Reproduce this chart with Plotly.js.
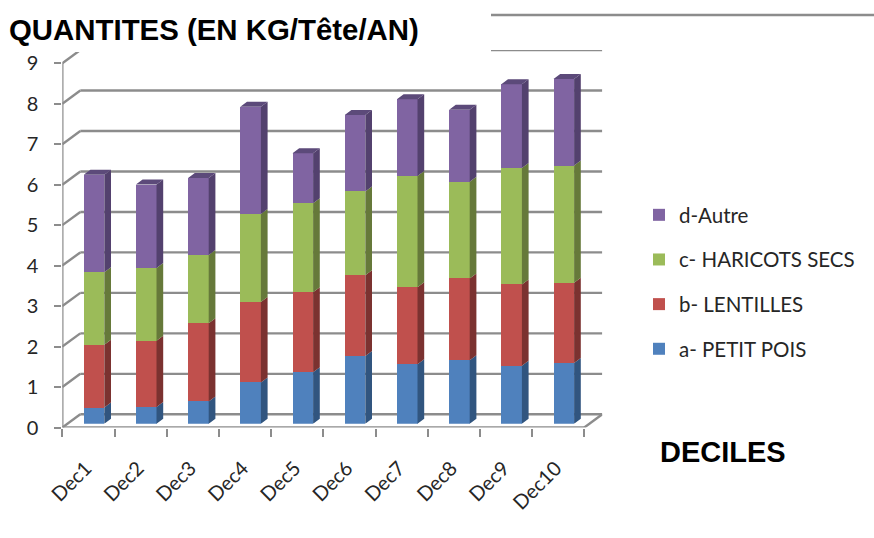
<!DOCTYPE html>
<html>
<head>
<meta charset="utf-8">
<script src="https://cdn.plot.ly/plotly-3.0.1.min.js"></script>
<style>html,body{margin:0;padding:0;background:#fff}#chart{width:874px;height:538px}</style>
</head>
<body>
<div id="chart"></div>
<script>
// Quantités consommées par décile, en kg par tête et par an
const categories = ['Dec1','Dec2','Dec3','Dec4','Dec5','Dec6','Dec7','Dec8','Dec9','Dec10'];
const petitPois = [0.40,0.41,0.55,1.02,1.27,1.67,1.47,1.57,1.43,1.50];
const lentilles = [1.55,1.64,1.93,1.99,1.98,2.00,1.90,2.02,2.01,1.98];
const haricots  = [1.79,1.80,1.69,2.17,2.20,2.07,2.75,2.39,2.88,2.90];
const autre     = [2.41,2.06,1.90,2.65,1.23,1.89,1.90,1.78,2.07,2.14];
const yTicks = [0,1,2,3,4,5,6,7,8,9];

const W = 874, H = 538;
// Scale of the front plane, in pixels per unit
const UX = 52.2, UY = 40.47;
const X0 = 62.3, Y0 = 427.5;
// Depth of the chart floor and of each bar, in axis units
const WALL_DX = 18 / UX, WALL_DY = 13.2 / UY;
const BAR_DX = 6.7 / UX, BAR_DY = 5 / UY;
const BAR_W = 20.6 / UX;
// Bars stand slightly behind the front plane
const SHIFT_X = 5.6, SHIFT_Y = 3.8;
const GREY = '#8c8c8c';

const xRange = [-0.5, 9.5 + WALL_DX];
const yRange = [0, 9 + WALL_DY];
const plotW = (xRange[1] - xRange[0]) * UX;
const plotH = (yRange[1] - yRange[0]) * UY;
const positions = categories.map((_, i) => i);

const series = [
  {name: 'a- PETIT POIS',      values: petitPois, front: '#4f81bd', side: '#31557f', rank: 4},
  {name: 'b- LENTILLES',       values: lentilles, front: '#c0504d', side: '#7b3230', rank: 3},
  {name: 'c- HARICOTS SECS',   values: haricots,  front: '#9bbb59', side: '#66793a', rank: 2},
  {name: 'd-Autre',            values: autre,     front: '#8064a2', side: '#53416e', rank: 1}
];

// Walls and floor: gridlines, left wall diagonals and the two front axes
const frameX = [], frameY = [];
function seg(x0, y0, x1, y1) { frameX.push(x0, x1, null); frameY.push(y0, y1, null); }
yTicks.forEach(v => {
  seg(-0.5, v, -0.5 + WALL_DX, v + WALL_DY);
  seg(-0.5 + WALL_DX, v + WALL_DY, 9.5 + WALL_DX, v + WALL_DY);
});
seg(-0.5, 0, -0.5, 9);
seg(-0.5, 0, 9.5, 0);
seg(9.5, 0, 9.5 + WALL_DX, WALL_DY);

const traces = [{
  type: 'scatter', mode: 'lines', x: frameX, y: frameY, xaxis: 'x', yaxis: 'y',
  line: {color: GREY, width: 2.4}, cliponaxis: false, showlegend: false, hoverinfo: 'skip'
}];

// Front faces of the stacked columns
series.forEach(s => traces.push({
  type: 'bar', name: s.name, x: positions, y: s.values, width: BAR_W,
  xaxis: 'x2', yaxis: 'y2', legendgroup: s.name, legendrank: s.rank,
  marker: {color: s.front, line: {width: 0}}
}));

// Side faces and the top cap, derived from the cumulative heights
const cumul = positions.map(() => 0);
series.forEach((s, k) => {
  const px = [], py = [];
  positions.forEach(i => {
    const y0 = cumul[i], y1 = y0 + s.values[i], r = i + BAR_W / 2;
    px.push(r, r + BAR_DX, r + BAR_DX, r, r, null);
    py.push(y0, y0 + BAR_DY, y1 + BAR_DY, y1, y0, null);
    cumul[i] = y1;
  });
  traces.push({
    type: 'scatter', mode: 'lines', x: px, y: py, xaxis: 'x2', yaxis: 'y2',
    fill: 'toself', fillcolor: s.side, line: {width: 0}, showlegend: false, hoverinfo: 'skip'
  });
  if (k === series.length - 1) {
    const cx = [], cy = [];
    positions.forEach(i => {
      const l = i - BAR_W / 2, r = i + BAR_W / 2, t = cumul[i];
      cx.push(l, l + BAR_DX, r + BAR_DX, r, l, null);
      cy.push(t, t + BAR_DY, t + BAR_DY, t, t, null);
    });
    traces.push({
      type: 'scatter', mode: 'lines', x: cx, y: cy, xaxis: 'x2', yaxis: 'y2',
      fill: 'toself', fillcolor: '#5c4a7a', line: {width: 0}, showlegend: false, hoverinfo: 'skip'
    });
  }
});

const domX = left => [left / W, (left + plotW) / W];
const domY = base => [(H - base) / H, (H - base + plotH) / H];
const tickFont = {family: 'Lato, "Open Sans", sans-serif', size: 20, color: '#262626'};

const layout = {
  width: W, height: H,
  margin: {l: 0, r: 0, t: 0, b: 0},
  paper_bgcolor: '#fff', plot_bgcolor: 'rgba(0,0,0,0)',
  barmode: 'stack', showlegend: true,
  font: tickFont,
  xaxis: {
    type: 'linear', domain: domX(X0), range: xRange, anchor: 'y',
    tickmode: 'array', tickvals: [-0.5,0.5,1.5,2.5,3.5,4.5,5.5,6.5,7.5,8.5,9.5],
    showticklabels: false, ticks: 'outside', ticklen: 8, tickwidth: 2, tickcolor: GREY,
    showgrid: false, zeroline: false, showline: false
  },
  yaxis: {
    type: 'linear', domain: domY(Y0), range: yRange, anchor: 'x',
    tickmode: 'array', tickvals: yTicks, ticktext: yTicks.map(String),
    ticks: 'outside', ticklen: 7, tickwidth: 2, tickcolor: GREY,
    ticklabelstandoff: 12, tickfont: tickFont,
    showgrid: false, zeroline: false, showline: false
  },
  xaxis2: {
    type: 'linear', domain: domX(X0 + SHIFT_X), range: xRange, anchor: 'y2',
    tickmode: 'array', tickvals: positions, ticktext: categories,
    tickangle: -45, ticks: '', ticklabelstandoff: 28, ticklabelshift: -8, tickfont: tickFont,
    showgrid: false, zeroline: false, showline: false
  },
  yaxis2: {
    type: 'linear', domain: domY(Y0 - SHIFT_Y), range: yRange, anchor: 'x2',
    visible: false, showgrid: false, zeroline: false
  },
  legend: {
    x: 639 / W, y: (H - 195) / H, xanchor: 'left', yanchor: 'top',
    traceorder: 'grouped', tracegroupgap: 15,
    font: {family: 'Lato, "Open Sans", sans-serif', size: 20.5, color: '#262626'},
    bgcolor: 'rgba(0,0,0,0)', borderwidth: 0
  },
  shapes: [
    {type: 'rect', xref: 'paper', yref: 'paper', layer: 'above',
     x0: 0, x1: 491 / W, y0: (H - 52) / H, y1: 1, fillcolor: '#fff', line: {width: 0}},
    {type: 'line', xref: 'paper', yref: 'paper', layer: 'below',
     x0: 491 / W, x1: 1, y0: (H - 15) / H, y1: (H - 15) / H, line: {color: GREY, width: 2.4}}
  ],
  annotations: [
    {text: '<b>QUANTITES (EN KG/Tête/AN)</b>', xref: 'paper', yref: 'paper', showarrow: false,
     x: 7 / W, y: (H - 30) / H, xanchor: 'left', yanchor: 'middle',
     font: {family: '"Liberation Sans", Arial, sans-serif', size: 29.4, color: '#000'}},
    {text: '<b>DECILES</b>', xref: 'paper', yref: 'paper', showarrow: false,
     x: 658 / W, y: (H - 451.5) / H, xanchor: 'left', yanchor: 'middle',
     font: {family: '"Liberation Sans", Arial, sans-serif', size: 29, color: '#000'}}
  ]
};

Plotly.newPlot('chart', traces, layout, {displayModeBar: false});
</script>
</body>
</html>
